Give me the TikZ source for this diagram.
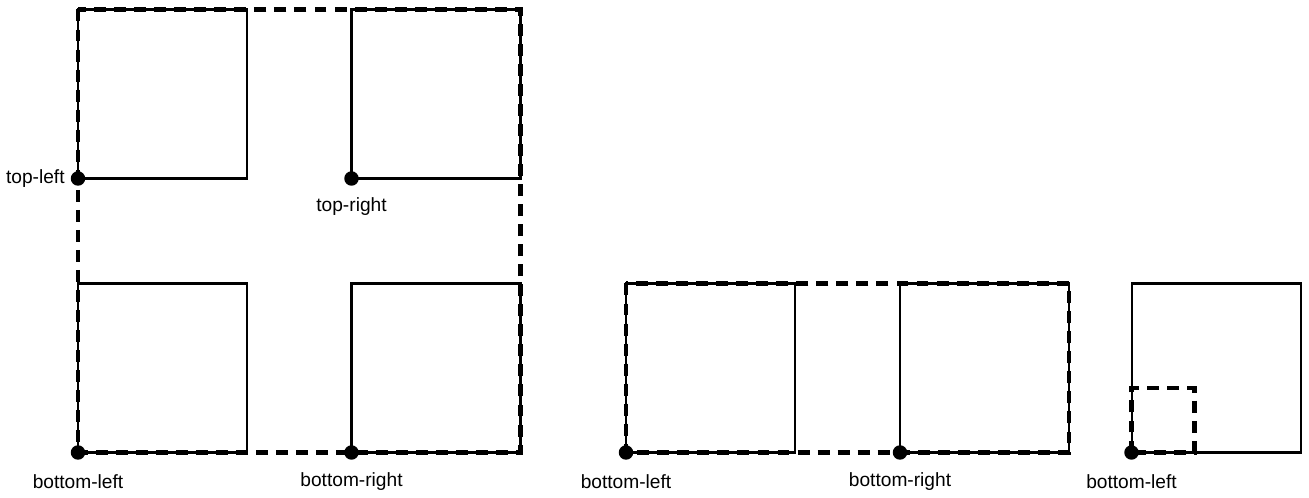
\documentclass[tikz,border=0pt]{standalone}
\usepackage{fontspec}
\setmainfont{Liberation Sans}
\usetikzlibrary{positioning, calc}
\tikzset{
  cellbox/.style={draw=black, line width=1.15pt, minimum width=3.38cm,
                  minimum height=3.38cm, inner sep=0pt, outer sep=0pt},
  spanbox/.style={draw=black, line width=2.3pt, dash pattern=on 6.8pt off 4.6pt},
  anchordot/.style={circle, fill=black, inner sep=0pt, minimum size=0.29cm},
  cornerlbl/.style={font=\fontsize{10.9}{12}\selectfont, inner sep=0pt},
}
\begin{document}
\begin{tikzpicture}
  \useasboundingbox (0,0) rectangle (26.18,9.96);

  % 2x2 grid
  \node[cellbox] (tl) at (3.25,8.08) {};
  \node[cellbox] (tr) at (8.72,8.08) {};
  \node[cellbox] (bl) at (3.25,2.6) {};
  \node[cellbox] (br) at (8.72,2.6) {};
  % pair in a row
  \node[cellbox] (pl) at (14.21,2.6) {};
  \node[cellbox] (pr) at (19.69,2.6) {};
  % single one
  \node[cellbox] (so) at (24.32,2.6) {};

  % dashed extents
  \draw[spanbox] (tl.north west) rectangle (br.south east);
  \draw[spanbox] (pl.north west) rectangle (pr.south east);
  \coordinate (soq) at ($(so.south west)+(1.26,1.29)$);
  \draw[spanbox] (so.south west) rectangle (soq);

  % corner markers
  \foreach \c in {tl, tr, bl, br, pl, pr, so} {
    \node[anchordot] (\c d) at (\c.south west) {};
  }

  \node[cornerlbl, anchor=east] (tll) at ([xshift=-0.26cm]tld.center) {top-left};
  \node[cornerlbl] (trl) at ([yshift=-0.56cm]trd.center) {top-right};
  \foreach \c/\t in {bl/bottom-left, br/bottom-right, pl/bottom-left,
                     pr/bottom-right, so/bottom-left} {
    \node[cornerlbl] (\c l) at ([yshift=-0.58cm]\c d.center) {\t};
  }
\end{tikzpicture}
\end{document}
